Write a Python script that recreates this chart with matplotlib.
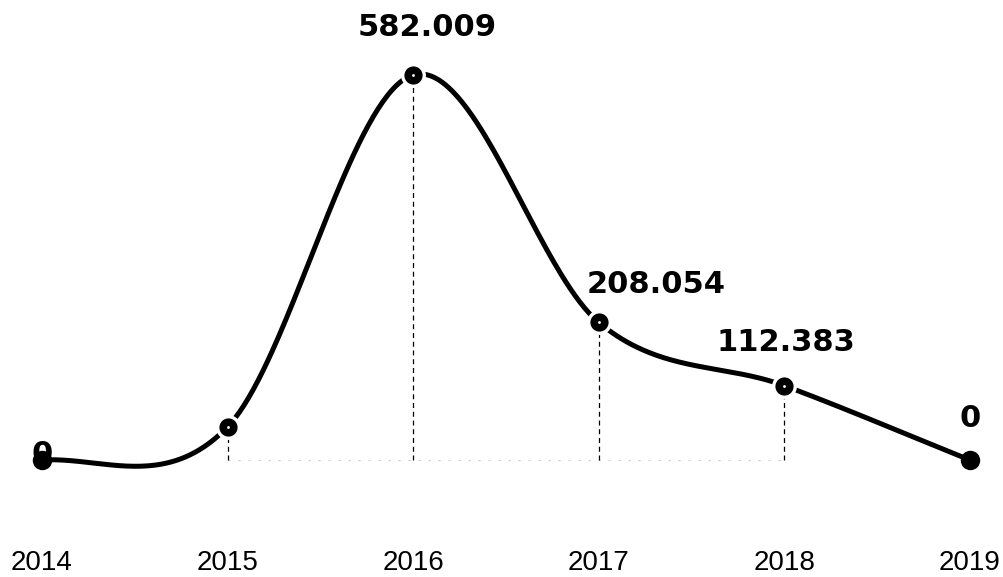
import numpy as np
import matplotlib
matplotlib.use("Agg")
import matplotlib.pyplot as plt

years = [2014, 2015, 2016, 2017, 2018, 2019]
values = [0, 50, 582.009, 208.054, 112.383, 0]
labels = ["0", "", "582.009", "208.054", "112.383", "0"]
# label offsets in points (dx, dy)
label_off = [(0, 4), None, (10, 34), (41, 27), (1, 31), (0, 30)]
dashed_years = [2015, 2016, 2017, 2018]

x = np.array(years, dtype=float)
y = np.array(values, dtype=float)

# cardinal (catmull-rom) tangents inside, soft start, straight finish
m = np.zeros_like(y)
m[1:-1] = (y[2:] - y[:-2]) / (x[2:] - x[:-2])
m[0] = 0.3 * (y[1] - y[0]) / (x[1] - x[0])
m[-1] = (y[-1] - y[-2]) / (x[-1] - x[-2])

xs, ys = [], []
t = np.linspace(0, 1, 80)
for i in range(len(x) - 1):
    h = x[i+1] - x[i]
    h00 = 2*t**3 - 3*t**2 + 1
    h10 = t**3 - 2*t**2 + t
    h01 = -2*t**3 + 3*t**2
    h11 = t**3 - t**2
    xs.append(x[i] + t*h)
    ys.append(h00*y[i] + h10*h*m[i] + h01*y[i+1] + h11*h*m[i+1])
xs = np.concatenate(xs)
ys = np.concatenate(ys)

fig = plt.figure(figsize=(10.04, 5.77), dpi=100)
ax = fig.add_axes([0, 0, 1, 1])
ax.set_xlim(2013.774, 2019.184)
ax.set_ylim(-176.9, 695.4)
ax.axis("off")

# faint baseline
ax.plot([2015, 2018], [0, 0], color="#cccccc", lw=0.8, ls=(0, (2, 7)), zorder=1)

for yr in dashed_years:
    v = values[years.index(yr)]
    ax.plot([yr, yr], [0, v], color="black", lw=0.9, ls=(0, (4, 3)), zorder=2)

ax.plot(xs, ys, color="black", lw=3.6, solid_capstyle="round", zorder=3)
ax.plot(x[1:-1], y[1:-1], "o", color="black", markersize=15.5, markeredgecolor="white",
        markeredgewidth=2.4, zorder=4)
ax.plot(x[[0, -1]], y[[0, -1]], "o", color="black", markersize=14,
        markeredgewidth=0, zorder=4)
ax.plot(x[1:-1], y[1:-1], "o", color="white", markersize=2, markeredgewidth=0, zorder=5)

for xi, yi, lab, off in zip(x, y, labels, label_off):
    if lab == "":
        continue
    ax.annotate(lab, (xi, yi), xytext=off, textcoords="offset points",
                ha="center", va="center", fontsize=22, fontweight="bold",
                color="black", zorder=6)

for yr in years:
    ax.text(yr, -155.7, str(yr), ha="center", va="center", fontsize=20,
            family=["Liberation Sans", "DejaVu Sans"], color="black")

fig.savefig("out.png", dpi=100)
